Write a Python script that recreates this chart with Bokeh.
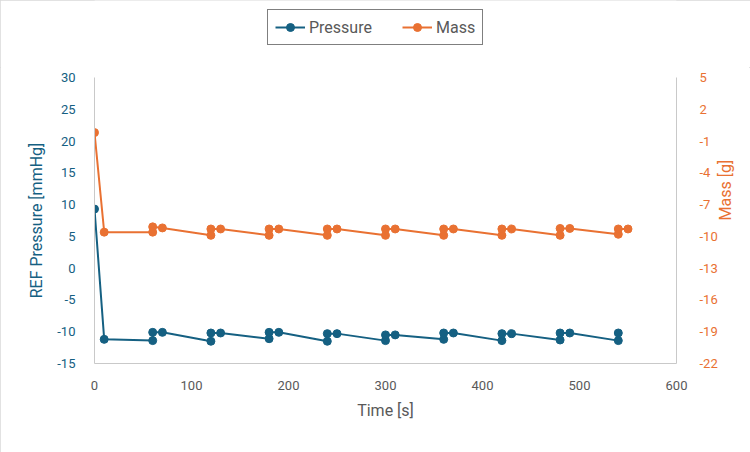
import math

from bokeh.plotting import figure
from bokeh.layouts import column
from bokeh.models import (Range1d, LinearAxis, FixedTicker, Legend, LegendItem,
                          ColumnDataSource, PrintfTickFormatter)
from bokeh.embed import file_html
from bokeh.resources import INLINE

# Time stamps [s] and readings
pressure_time = [0, 10, 60, 60, 70, 120, 120, 130, 180, 180, 190, 240, 240, 250,
                 300, 300, 310, 360, 360, 370, 420, 420, 430, 480, 480, 490, 540, 540]
pressure_mmhg = [9.3, -11.2, -11.4, -10.1, -10.1, -11.5, -10.2, -10.2, -11.1, -10.1,
                 -10.1, -11.5, -10.3, -10.3, -11.4, -10.5, -10.5, -11.2, -10.2, -10.2,
                 -11.4, -10.3, -10.3, -11.3, -10.2, -10.2, -11.4, -10.2]

mass_time = [0, 10, 60, 60, 70, 120, 120, 130, 180, 180, 190, 240, 240, 250,
             300, 300, 310, 360, 360, 370, 420, 420, 430, 480, 480, 490, 540, 540, 550]
mass_g = [-0.2, -9.6, -9.6, -9.1, -9.2, -9.9, -9.3, -9.3, -9.9, -9.3, -9.3, -9.9,
          -9.3, -9.3, -9.9, -9.3, -9.3, -9.9, -9.3, -9.3, -9.9, -9.3, -9.3, -9.9,
          -9.25, -9.25, -9.8, -9.3, -9.3]

time_ticks = [0, 100, 200, 300, 400, 500, 600]
pressure_ticks = [-15, -10, -5, 0, 5, 10, 15, 20, 25, 30]
mass_ticks = [-22, -19, -16, -13, -10, -7, -4, -1, 2, 5]

BLUE = "#156082"
ORANGE = "#E97132"
GRAY = "#595959"
AXIS_GRAY = "#C9C9C9"
FONT = "Roboto"

ps = ColumnDataSource(dict(t=pressure_time, v=pressure_mmhg))
ms = ColumnDataSource(dict(t=mass_time, v=mass_g))


def draw_series(fig):
    pl = fig.line("t", "v", source=ps, line_color=BLUE, line_width=2)
    pc = fig.scatter("t", "v", source=ps, size=8, fill_color=BLUE, line_color=BLUE)
    ml = fig.line("t", "v", source=ms, line_color=ORANGE, line_width=2,
                  y_range_name="mass")
    mc = fig.scatter("t", "v", source=ms, size=8, fill_color=ORANGE,
                     line_color=ORANGE, y_range_name="mass")
    return pl, pc, ml, mc


# main chart
p = figure(width=750, height=385, output_backend="svg", toolbar_location=None,
           x_range=Range1d(0, 600), y_range=Range1d(-15, 30),
           min_border_left=94, min_border_right=74, min_border_top=10,
           min_border_bottom=89, background_fill_color="white",
           border_fill_color="white", outline_line_color=None)
p.grid.visible = False
p.extra_y_ranges = {"mass": Range1d(-22, 5)}

# bottom axis
xa = p.xaxis[0]
xa.ticker = FixedTicker(ticks=time_ticks)
xa.axis_label = "Time [s]"
xa.axis_line_color = AXIS_GRAY
xa.major_tick_line_color = None
xa.minor_tick_line_color = None
xa.major_label_text_color = GRAY
xa.major_label_text_font = FONT
xa.major_label_text_font_size = "13px"
xa.major_label_standoff = 11
xa.axis_label_text_color = GRAY
xa.axis_label_text_font = FONT
xa.axis_label_text_font_size = "16px"
xa.axis_label_text_font_style = "normal"
xa.axis_label_standoff = 8

# left axis: pressure
ya = p.yaxis[0]
ya.ticker = FixedTicker(ticks=pressure_ticks)
ya.formatter = PrintfTickFormatter(format="%d")
ya.axis_label = "REF Pressure [mmHg]"
ya.axis_line_color = AXIS_GRAY
ya.major_tick_line_color = None
ya.minor_tick_line_color = None
ya.major_label_text_color = BLUE
ya.major_label_text_font = FONT
ya.major_label_text_font_size = "13px"
ya.major_label_standoff = 13
ya.axis_label_text_color = BLUE
ya.axis_label_text_font = FONT
ya.axis_label_text_font_size = "16px"
ya.axis_label_text_font_style = "normal"
ya.axis_label_standoff = 8

# right axis: mass (label reads bottom-to-top)
ra = LinearAxis(y_range_name="mass", ticker=FixedTicker(ticks=mass_ticks),
                formatter=PrintfTickFormatter(format="%d"),
                axis_label="Mass [g]")
ra.axis_line_color = AXIS_GRAY
ra.major_tick_line_color = None
ra.minor_tick_line_color = None
ra.major_label_text_color = ORANGE
ra.major_label_text_font = FONT
ra.major_label_text_font_size = "13px"
ra.major_label_standoff = 17
ra.axis_label_orientation = math.pi / 2
ra.axis_label_text_color = ORANGE
ra.axis_label_text_font = FONT
ra.axis_label_text_font_size = "16px"
ra.axis_label_text_font_style = "normal"
ra.axis_label_standoff = 5
p.add_layout(ra, "right")

draw_series(p)

# legend strip: same series, with the view scrolled away so only the legend shows
lg = figure(width=750, height=67, output_backend="svg", toolbar_location=None,
            x_range=Range1d(-2000, -1000), y_range=Range1d(-2000, -1000),
            x_axis_location=None, y_axis_location=None,
            min_border=0, outline_line_color=None,
            background_fill_color="white", border_fill_color="white")
lg.grid.visible = False
lg.extra_y_ranges = {"mass": Range1d(-2000, -1000)}
lpl, lpc, lml, lmc = draw_series(lg)

legend = Legend(items=[LegendItem(label="Pressure", renderers=[lpl, lpc]),
                       LegendItem(label="Mass", renderers=[lml, lmc])],
                orientation="horizontal", location=(173, 22),
                border_line_color="black", border_line_width=1.5,
                label_text_font=FONT, label_text_font_size="16px",
                label_text_color=GRAY, glyph_width=30, label_standoff=4,
                spacing=30, padding=7, margin=0, background_fill_alpha=1)
lg.add_layout(legend, "center")

layout = column(lg, p, spacing=0)
layout.styles = {"outline": "1px solid #D9D9D9", "outline-offset": "-1px"}

open("out.html", "w").write(file_html(layout, INLINE))
